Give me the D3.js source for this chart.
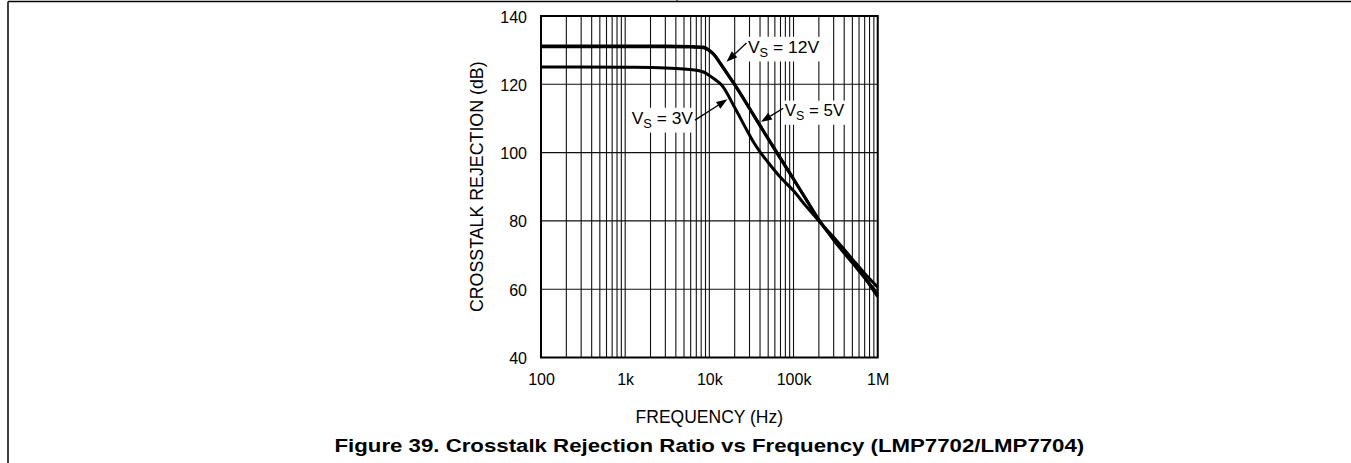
<!DOCTYPE html>
<html>
<head>
<meta charset="utf-8">
<script src="https://cdn.jsdelivr.net/npm/d3@7"></script>
<style>
  body { margin: 0; background: #fff; }
  svg text { font-family: "Liberation Sans", Arial, sans-serif; fill: #000; }
</style>
</head>
<body>
<svg id="chart" width="1351" height="463"></svg>
<script>
// axis ticks
var freqTicks = [100, 1e3, 1e4, 1e5, 1e6];
var freqLabels = ["100", "1k", "10k", "100k", "1M"];
var dbTicks = [40, 60, 80, 100, 120, 140];

// VS = 12V
var freq12 = [100, 300, 1e3, 3e3, 6e3, 8.5e3, 1e4, 1.15e4, 1.3e4, 1.5e4, 2e4, 3e4, 4.5e4, 6.3e4, 1e5, 1.4e5, 2e5, 3e5, 5e5, 7e5, 1e6];
var crt12  = [131.2, 131.2, 131.2, 131.2, 131.1, 130.9, 130.0, 128.6, 126.8, 124.5, 120.0, 113.0, 105.9, 100.2, 92.3, 86.4, 80.2, 74.6, 68.0, 63.3, 57.8];

// VS = 5V
var freq5 = [100, 300, 1e3, 3e3, 6e3, 8.5e3, 1e4, 1.15e4, 1.3e4, 1.5e4, 2e4, 3e4, 4.5e4, 6.3e4, 1e5, 1.4e5, 2e5, 3e5, 5e5, 7e5, 1e6];
var crt5  = [131.0, 131.0, 131.0, 131.0, 130.9, 130.7, 129.8, 128.5, 126.6, 124.4, 119.8, 112.9, 105.8, 100.0, 92.2, 86.5, 80.4, 74.4, 67.7, 63.4, 58.6];

// VS = 3V
var freq3 = [100, 300, 1e3, 3e3, 5e3, 7e3, 8.5e3, 1e4, 1.2e4, 1.4e4, 2e4, 2.8e4, 3.4e4, 4e4, 5e4, 6.9e4, 1e5, 1.4e5, 2e5, 3e5, 5e5, 7e5, 1e6];
var crt3  = [125.1, 125.1, 125.0, 124.8, 124.5, 124.1, 123.6, 122.6, 121.2, 119.8, 113.2, 106.5, 102.8, 100.2, 97.1, 92.9, 88.8, 84.4, 80.0, 75.2, 68.8, 64.6, 60.6];

var series = [
    {f: freq12, v: crt12},
    {f: freq5, v: crt5},
    {f: freq3, v: crt3}
];

// callouts: label, text anchor point, arrow tail, arrow tip (data units), text width
var callouts = [
    {label: " = 12V", at: [2.87e4, 129.3], anchor: "start", tail: [2.76e4, 132.1], tip: [1.6e4, 126.6], w: 72},
    {label: " = 5V",  at: [7.89e4, 110.8], anchor: "start", tail: [7.55e4, 113.0], tip: [4.1e4, 109.0], w: 60},
    {label: " = 3V",  at: [6.38e3, 108.5], anchor: "end",   tail: [6.75e3, 109.5], tip: [1.64e4, 115.6], w: 62}
];

var svg = d3.select("#chart");

// page frame
svg.append("line").attr("x1", 8).attr("y1", 1.5).attr("x2", 1351).attr("y2", 1.5)
    .attr("stroke", "#000").attr("stroke-width", 1.5);
svg.append("line").attr("x1", 8).attr("y1", 1.5).attr("x2", 8).attr("y2", 463)
    .attr("stroke", "#000").attr("stroke-width", 1.5);
svg.append("line").attr("x1", 677).attr("y1", 0).attr("x2", 677).attr("y2", 1.5)
    .attr("stroke", "#000").attr("stroke-width", 1);

var x = d3.scaleLog().domain([100, 1e6]).range([541, 877.7]);
var y = d3.scaleLinear().domain([40, 140]).range([357.5, 16]);

var grid = svg.append("g");

// vertical grid, every 1..9 of each decade
grid.selectAll("line.v")
    .data(x.ticks())
    .join("line")
    .attr("x1", d => x(d)).attr("x2", d => x(d))
    .attr("y1", y(40)).attr("y2", y(140))
    .attr("stroke", "#111")
    .attr("stroke-width", 1.1);

// horizontal grid
grid.selectAll("line.h")
    .data(dbTicks)
    .join("line")
    .attr("x1", x(100)).attr("x2", x(1e6))
    .attr("y1", d => y(d)).attr("y2", d => y(d))
    .attr("stroke", "#111")
    .attr("stroke-width", 1.1);

// axes (labels only, the frame is drawn below)
var xAxis = svg.append("g")
    .attr("transform", "translate(0," + y(40) + ")")
    .call(d3.axisBottom(x).tickValues(freqTicks).tickFormat((d, i) => freqLabels[i]).tickSize(0).tickPadding(16));
var yAxis = svg.append("g")
    .attr("transform", "translate(" + x(100) + ",0)")
    .call(d3.axisLeft(y).tickValues(dbTicks).tickSize(0).tickPadding(14));
[xAxis, yAxis].forEach(function(a) {
    a.select(".domain").remove();
    a.selectAll("text").attr("font-size", 16).attr("font-family", null);
});
yAxis.selectAll("text").attr("dy", "0.38em");

// curves
var line = d3.line()
    .x(d => x(d[0]))
    .y(d => y(d[1]))
    .curve(d3.curveMonotoneX);

svg.append("g")
    .selectAll("path")
    .data(series)
    .join("path")
    .attr("d", s => line(s.f.map((f, i) => [f, s.v[i]])))
    .attr("fill", "none")
    .attr("stroke", "#000")
    .attr("stroke-width", 3)
    .attr("stroke-linejoin", "round");

// plot frame
svg.append("rect")
    .attr("x", x(100)).attr("y", y(140))
    .attr("width", x(1e6) - x(100)).attr("height", y(40) - y(140))
    .attr("fill", "none").attr("stroke", "#000").attr("stroke-width", 2);

// stretch a text horizontally to a given width, about its anchor
function fitWidth(t, w) {
    var nw = t.node().getBBox().width;
    var g = d3.select(t.node().parentNode);
    t.attr("transform", "scale(" + (w / nw) + ",1)");
}

// callouts
var cg = svg.append("g");
callouts.forEach(function(c) {
    var g = cg.append("g");
    var bg = g.append("rect").attr("fill", "#fff");
    var tg = g.append("g").attr("transform", "translate(" + x(c.at[0]) + "," + y(c.at[1]) + ")");
    var t = tg.append("text")
        .attr("text-anchor", c.anchor)
        .attr("font-size", 17);
    t.append("tspan").text("V");
    t.append("tspan").text("S").attr("font-size", 12.5).attr("dy", 4);
    t.append("tspan").text(c.label).attr("dy", -4);
    fitWidth(t, c.w);
    var bb = tg.node().getBBox();
    var bx0 = x(c.at[0]) + (c.anchor == "end" ? -c.w : 0);
    bg.attr("x", bx0 - 2).attr("y", y(c.at[1]) + bb.y).attr("width", c.w + 4).attr("height", bb.height + 2);

    var x0 = x(c.tail[0]), y0 = y(c.tail[1]);
    var x1 = x(c.tip[0]), y1 = y(c.tip[1]);
    var ang = Math.atan2(y1 - y0, x1 - x0);
    var L = 11, W = 4;
    var bx = x1 - L * Math.cos(ang), by = y1 - L * Math.sin(ang);
    g.append("line")
        .attr("x1", x0).attr("y1", y0).attr("x2", bx).attr("y2", by)
        .attr("stroke", "#000").attr("stroke-width", 1.3);
    g.append("path")
        .attr("d", "M" + x1 + "," + y1 +
            "L" + (bx + W * Math.sin(ang)) + "," + (by - W * Math.cos(ang)) +
            "L" + (bx - W * Math.sin(ang)) + "," + (by + W * Math.cos(ang)) + "Z")
        .attr("fill", "#000");
});

// axis titles
svg.append("text")
    .attr("x", (x(100) + x(1e6)) / 2).attr("y", 423)
    .attr("text-anchor", "middle")
    .attr("font-size", 17.5)
    .text("FREQUENCY (Hz)");

svg.append("text")
    .attr("transform", "translate(483," + (y(40) + y(140)) / 2 + ") rotate(-90)")
    .attr("text-anchor", "middle")
    .attr("font-size", 17.8)
    .text("CROSSTALK REJECTION (dB)");

// figure caption
var cap = svg.append("g")
    .attr("transform", "translate(" + (x(100) + x(1e6)) / 2 + ",452)")
    .append("text")
    .attr("text-anchor", "middle")
    .attr("font-size", 17.5)
    .attr("font-weight", "bold")
    .text("Figure 39. Crosstalk Rejection Ratio vs Frequency (LMP7702/LMP7704)");
fitWidth(cap, 750);
</script>
</body>
</html>
